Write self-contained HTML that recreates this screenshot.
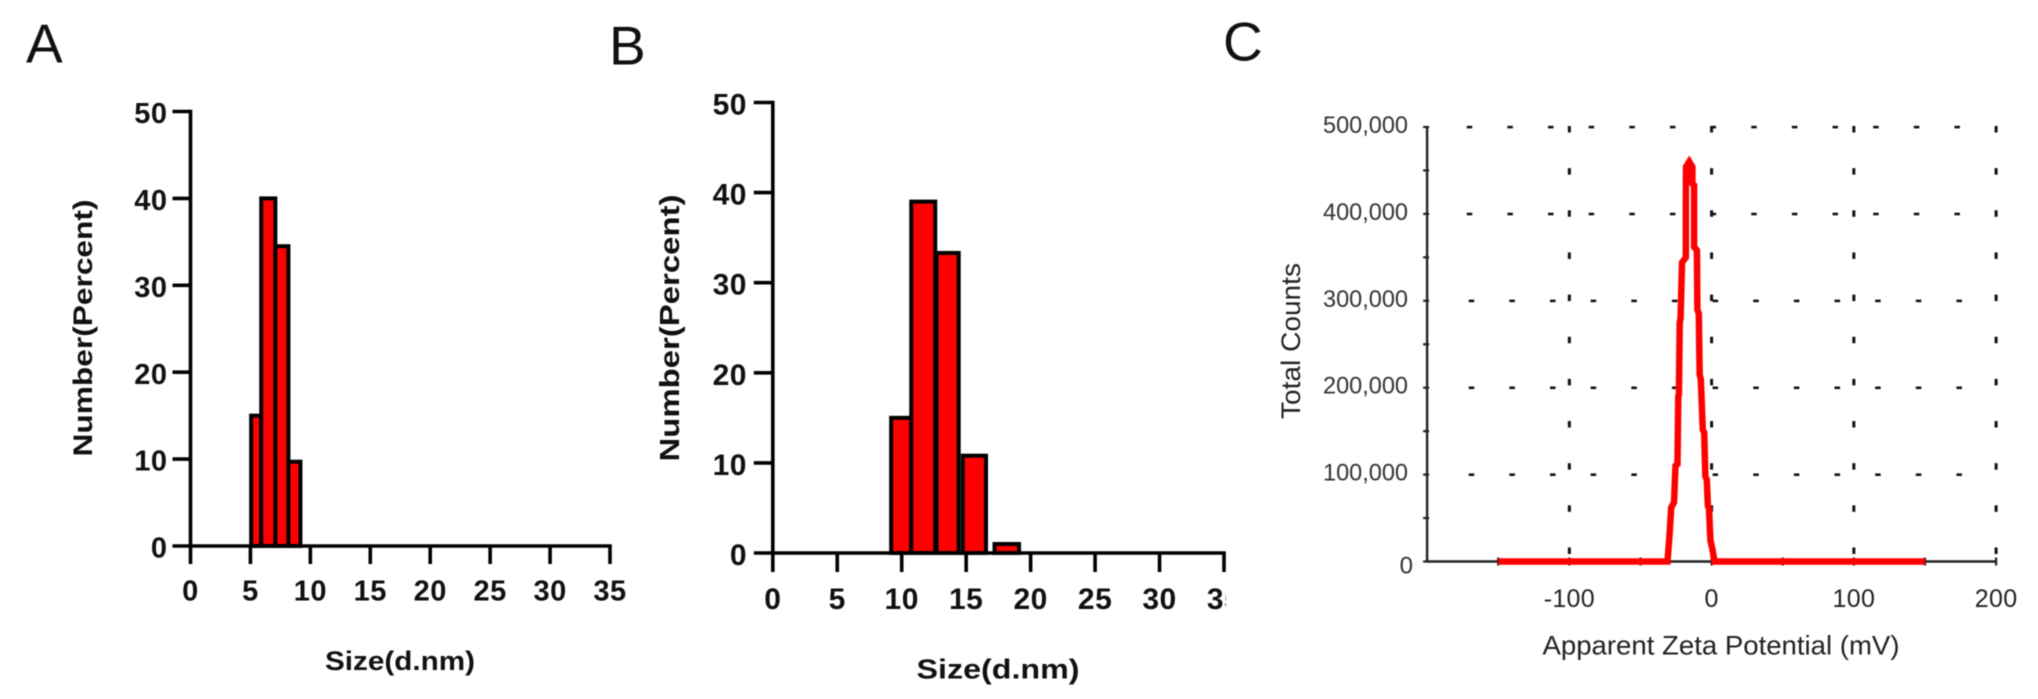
<!DOCTYPE html>
<html lang="en">
<head>
<meta charset="utf-8">
<title>Size distribution and zeta potential</title>
<style>
html,body{margin:0;padding:0;background:#fff;width:2038px;height:699px;overflow:hidden}
svg{display:block;font-family:"Liberation Sans",Arial,sans-serif;filter:blur(0.5px)}
</style>
</head>
<body>
<svg id="figure" xmlns="http://www.w3.org/2000/svg" width="2038" height="699" viewBox="0 0 2038 699">
  <defs><clipPath id="clip-b"><rect x="600" y="60" width="626" height="630"/></clipPath></defs>
  <rect width="2038" height="699" fill="#fff"/>
  <text x="26" y="62.5" font-size="55" fill="#111">A</text>
  <text x="609" y="64.5" font-size="55" fill="#111">B</text>
  <text x="1223" y="60.5" font-size="55" fill="#111">C</text>
  <g id="panel-a"></g>
  <g id="panel-b"></g>
  <g id="panel-c"></g>
</svg>
<script>
const histXTicks = [0, 5, 10, 15, 20, 25, 30, 35];
const histYTicks = [0, 10, 20, 30, 40, 50];
const sizeStartA = [5.06, 5.9, 7.08, 8.17];
const sizeEndA = [5.9, 7.08, 8.17, 9.17];
const percentA = [15, 40, 34.5, 9.7];
const sizeStartB = [9.18, 10.74, 12.7, 14.74, 17.2];
const sizeEndB = [10.74, 12.6, 14.42, 16.54, 19.1];
const percentB = [15, 39, 33.3, 10.8, 1];
const zetaYTicks = [0, 100000, 200000, 300000, 400000, 500000];
const zetaYLabels = ['0', '100,000', '200,000', '300,000', '400,000', '500,000'];
const zetaYMinor = [50000, 150000, 250000, 350000, 450000];
const zetaXLabelled = [-100, 0, 100, 200];
const zetaXMinor = [-150, -50, 50, 150];
const zetaMv = [-150, -31, -29.6, -28.4, -26.4, -25.4, -24, -23.4, -23, -22.4, -21.8, -20.8, -18.1, -18.1, -18, -15.7, -13.5, -13.5, -12.3, -12.3, -10.3, -10, -9, -8.4, -7.6, -6.2, -5.2, -4.4, -3.4, -2.6, -1.8, -0.8, 0.6, 2, 150];
const zetaCounts = [0, 0, 30000, 62000, 68000, 110000, 112000, 190000, 192000, 275000, 280000, 344000, 350000, 412000, 454000, 460000, 454000, 435000, 433000, 362000, 358000, 290000, 285000, 215000, 210000, 152000, 148000, 98000, 94000, 64000, 60000, 24000, 14000, 0, 0];

const NS = 'http://www.w3.org/2000/svg';
function mk(parent, tag, attrs, txt) {
  const el = document.createElementNS(NS, tag);
  for (const k in attrs) el.setAttribute(k, attrs[k]);
  if (txt !== undefined) el.textContent = txt;
  parent.appendChild(el);
  return el;
}

function histogram(root, c, starts, ends, values) {
  const sx = v => c.x0 + (v / 35) * (c.x35 - c.x0);
  const sy = v => c.y0 - (v / 50) * (c.y0 - c.y50);
  starts.forEach((s, i) => {
    const bar = mk(root, 'rect', {x: sx(s), y: sy(values[i]), width: sx(ends[i]) - sx(s), height: c.y0 - sy(values[i]), fill: '#ff0000', stroke: '#000', 'stroke-width': 4});
    
    
  });
  const yAxis = mk(root, 'line', {x1: c.x0, x2: c.x0, y1: sy(50) - 1.8, y2: c.y0, stroke: '#000', 'stroke-width': 3.6});
  
  
  const xAxis = mk(root, 'line', {x1: c.x0, x2: sx(35) + 1.8, y1: c.y0, y2: c.y0, stroke: '#000', 'stroke-width': 3.6});
  
  
  histYTicks.forEach(t => {
    const tick = mk(root, 'line', {x1: c.x0 - c.tick, x2: c.x0, y1: sy(t), y2: sy(t), stroke: '#000', 'stroke-width': 3.6});
    
    
    const lab = mk(root, 'text', {x: c.yLabelRight, y: sy(t) + c.digit * 0.4, 'font-size': c.digit, 'font-weight': 700, 'text-anchor': 'end', 'letter-spacing': 0.5, fill: '#111'}, String(t));
    
    
  });
  const xLabels = mk(root, 'g', c.clip ? {'clip-path': c.clip} : {});
  
  
  histXTicks.forEach(t => {
    const tick = mk(root, 'line', {x1: sx(t), x2: sx(t), y1: c.y0, y2: c.y0 + c.tick, stroke: '#000', 'stroke-width': 3.6});
    
    
    const lab = mk(xLabels, 'text', {x: sx(t), y: c.xLabelY, 'font-size': c.digit, 'font-weight': 700, 'text-anchor': 'middle', 'letter-spacing': 0.5, fill: '#111'}, String(t));
    
    
  });
  const xt = mk(root, 'text', {x: c.xTitleX, y: c.xTitleY, 'font-size': c.title, 'font-weight': 700, 'text-anchor': 'middle', textLength: c.xTitleLen, lengthAdjust: 'spacingAndGlyphs', fill: '#111'}, 'Size(d.nm)');
  
  
  const yt = mk(root, 'text', {transform: 'translate(' + c.yTitleX + ',' + c.yTitleY + ') rotate(-90)', 'font-size': c.title, 'font-weight': 700, 'text-anchor': 'middle', textLength: c.yTitleLen, lengthAdjust: 'spacingAndGlyphs', fill: '#111'}, 'Number(Percent)');
  
  
}

histogram(document.getElementById('panel-a'),
  {x0: 190.5, x35: 610, y0: 546, y50: 111.5, tick: 18, digit: 29, yLabelRight: 167.5, xLabelY: 600.5, title: 27, xTitleX: 400, xTitleY: 670, xTitleLen: 150, yTitleX: 92, yTitleY: 328, yTitleLen: 257},
  sizeStartA, sizeEndA, percentA);
histogram(document.getElementById('panel-b'),
  {x0: 772.8, x35: 1224, y0: 553, y50: 102.5, tick: 19, digit: 30, yLabelRight: 747, xLabelY: 609, title: 28, xTitleX: 998, xTitleY: 678.5, xTitleLen: 163, yTitleX: 679, yTitleY: 328, yTitleLen: 267, clip: 'url(#clip-b)'},
  sizeStartB, sizeEndB, percentB);

(function zeta() {
  const root = document.getElementById('panel-c');
  const sx = v => 1711.6 + v * 1.4225;
  const sy = v => 561.5 - v / 500000 * 434.5;
  const ink = '#111';
  // dotted grid: horizontal dashes
  zetaYTicks.slice(1).forEach(t => {
    const shift = t >= 400000 ? 0 : 2;
    for (let k = 1; k < 14; k++) {
      const dash = mk(root, 'rect', {x: sx(-200 + k * 200 / 7) + shift - 1, y: sy(t) - 1.2, width: 5.5, height: 2.6, fill: ink});
      
      
    }
  });
  // dotted grid: vertical dashes
  zetaXLabelled.forEach(x => {
    for (let k = 0; k < 11; k++) {
      const dot = mk(root, 'rect', {x: sx(x) - 1.5, y: sy(500000 - k * 48500) - 1, width: 3, height: 6.5, fill: ink});
      
      
    }
  });
  const yAxis = mk(root, 'line', {x1: sx(-200), x2: sx(-200), y1: sy(500000), y2: sy(0), stroke: '#222', 'stroke-width': 2.4});
  
  
  const xAxis = mk(root, 'line', {x1: sx(-200), x2: sx(200), y1: sy(0), y2: sy(0), stroke: '#222', 'stroke-width': 2.4});
  
  
  zetaYTicks.concat(zetaYMinor).forEach(t => {
    const tick = mk(root, 'line', {x1: sx(-200) - 4, x2: sx(-200) + 2, y1: sy(t), y2: sy(t), stroke: '#222', 'stroke-width': 2.2});
    
    
  });
  zetaXLabelled.concat(zetaXMinor).forEach(t => {
    const tick = mk(root, 'line', {x1: sx(t), x2: sx(t), y1: sy(0) - 4, y2: sy(0) + 4, stroke: '#222', 'stroke-width': 2.2});
    
    
  });
  const pts = zetaMv.map((m, i) => sx(m) + ',' + sy(zetaCounts[i])).join(' ');
  const curve = mk(root, 'polyline', {points: pts, fill: 'none', stroke: '#ff0000', 'stroke-width': 6.5, 'stroke-linejoin': 'miter', 'stroke-miterlimit': 2});
  
  
  zetaYTicks.forEach((t, i) => {
    const s = zetaYLabels[i];
    const attrs = {x: s === '0' ? 1413 : 1408, y: sy(t) + 6 + (t === 0 ? 6 : 0), 'font-size': 24, 'text-anchor': 'end', fill: '#333'};
    if (s !== '0') { attrs.textLength = 85; attrs.lengthAdjust = 'spacingAndGlyphs'; }
    const lab = mk(root, 'text', attrs, s);
    
    
  });
  zetaXLabelled.forEach(t => {
    const lab = mk(root, 'text', {x: sx(t), y: 607, 'font-size': 25, 'text-anchor': 'middle', 'letter-spacing': 0.3, fill: '#222'}, String(t));
    
    
  });
  const xt = mk(root, 'text', {x: 1721, y: 654.5, 'font-size': 27, 'text-anchor': 'middle', textLength: 357, lengthAdjust: 'spacingAndGlyphs', fill: '#222'}, 'Apparent Zeta Potential (mV)');
  
  
  const yt = mk(root, 'text', {transform: 'translate(1300,341) rotate(-90)', 'font-size': 27, 'text-anchor': 'middle', textLength: 156, lengthAdjust: 'spacingAndGlyphs', fill: '#222'}, 'Total Counts');
  
  
})();
</script>
</body>
</html>
